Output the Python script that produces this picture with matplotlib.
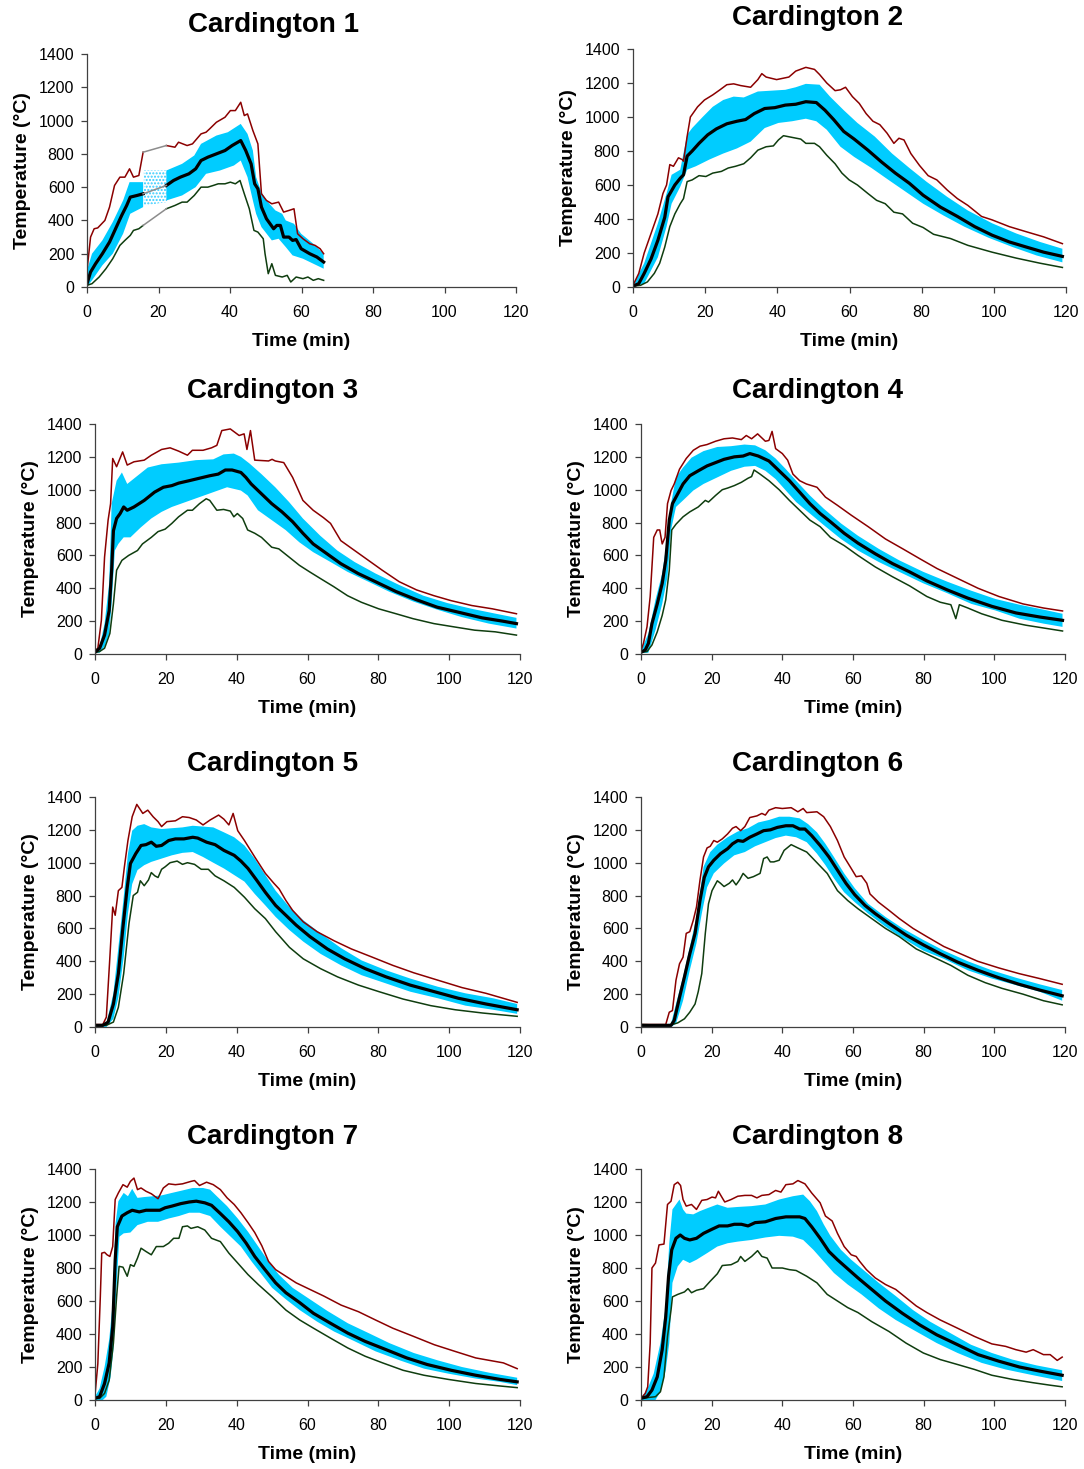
import numpy as np
import matplotlib
matplotlib.use("Agg")
import matplotlib.pyplot as plt

plt.rcParams['font.family'] = ['Liberation Sans', 'DejaVu Sans']

# ---- Cardington 1 (gap in the record between ~16 and ~22 min) ----
c1_max_a = [(0, 100), (1, 300), (2, 350), (3, 355), (5, 400), (6.3, 480), (7.7, 610), (9.2, 660),
            (10.6, 660), (11.9, 710), (13, 660), (14.5, 670), (15.7, 810)]
c1_max_b = [(22.2, 850), (24.6, 840), (25.6, 870), (28, 850), (29.5, 860), (31.9, 920), (33.3, 930),
            (34.3, 950), (36.2, 990), (38.6, 1020), (40.1, 1060), (41.5, 1060), (43, 1110), (44, 1030),
            (44.9, 1040), (46.4, 940), (47.8, 860), (48.8, 560), (50.2, 520), (51.7, 500), (53.6, 510),
            (55, 450), (56.5, 460), (57.9, 470), (58.9, 320), (60.4, 290), (62.3, 260), (63.8, 250),
            (65.2, 230), (66.2, 200)]
c1_min_a = [(0, 10), (1.4, 20), (3.4, 60), (5.3, 110), (7.2, 170), (9.2, 250), (10.6, 280), (12.1, 310),
            (13, 340), (14.5, 350), (15.7, 370)]
c1_min_b = [(22.2, 470), (24.6, 490), (26.6, 510), (28, 510), (30, 550), (31.9, 600), (33.8, 600),
            (35.3, 610), (36.7, 620), (38.6, 620), (40.1, 630), (41.5, 620), (42.8, 640), (44, 560),
            (45.4, 470), (46.7, 340), (47.8, 330), (49.3, 290), (49.8, 200), (50.7, 80), (51.7, 140),
            (52.7, 70), (54.6, 60), (56, 70), (57, 30), (58.5, 60), (60.4, 50), (61.8, 60), (63.3, 40),
            (64.7, 50), (66.2, 40)]
c1_mean_a = [(0, 20), (1, 90), (2.4, 140), (4.3, 200), (6.3, 270), (8.2, 360), (9.7, 430), (11.1, 490),
             (12.1, 540), (14, 550), (15.7, 560)]
c1_mean_b = [(22.2, 610), (24.2, 640), (26.1, 660), (28.5, 680), (30.4, 710), (31.9, 760), (33.8, 780),
             (36.2, 800), (38.6, 820), (40.6, 850), (43, 880), (44.4, 820), (45.9, 740), (46.9, 620),
             (47.8, 590), (48.8, 480), (50.2, 410), (52.2, 350), (53.1, 370), (54.1, 370), (55, 300),
             (56.5, 300), (57.5, 280), (58.5, 285), (59.9, 230), (62.3, 200), (64.3, 180), (66.2, 150)]
c1_hi_a = [(0, 100), (1.4, 200), (4.3, 280), (7.2, 390), (10.1, 520), (11.9, 630), (15.7, 630)]
c1_lo_a = [(0, 0), (1.4, 40), (4.3, 130), (7.2, 200), (10.1, 320), (12.1, 440), (15.7, 480)]
c1_hi_b = [(22.2, 700), (26.6, 740), (30, 790), (31.9, 860), (36.2, 910), (39.4, 930), (43, 980),
           (44.9, 920), (46.4, 820), (47.3, 660), (48.8, 570), (50.2, 520), (52.7, 460), (54.6, 440),
           (55.6, 400), (57.9, 380), (59.9, 320), (63.3, 260), (66.2, 200)]
c1_lo_b = [(22.2, 520), (26.6, 550), (30.4, 600), (33.3, 680), (37.2, 700), (41.1, 730), (43, 760),
           (44.9, 660), (46.4, 520), (47.3, 440), (48.8, 360), (51.7, 280), (53.6, 290), (55.6, 240),
           (57.5, 190), (60.4, 170), (63.3, 140), (66.2, 110)]
c1_gap_hi = [(15.9, 700), (22.4, 700)]
c1_gap_lo = [(15.9, 490), (22.4, 510)]

# ---- Cardington 2 ----
c2_max = [(0, 10), (1.6, 80), (3.1, 200), (5, 315), (6.9, 430), (8.3, 550), (9.3, 600), (10.2, 720),
          (11.2, 710), (12.6, 760), (13.6, 750), (14, 740), (15, 885), (15.9, 1000), (17.9, 1060),
          (19.8, 1100), (22.1, 1130), (24.1, 1160), (26, 1190), (27.9, 1195), (29.8, 1185), (32.6, 1175),
          (34.6, 1220), (35.7, 1255), (36.9, 1235), (39.8, 1220), (43.2, 1235), (45.1, 1270), (47.9, 1292),
          (50.3, 1280), (51.7, 1250), (53.7, 1200), (56, 1155), (57.5, 1160), (58.9, 1175), (60.8, 1120),
          (62.7, 1080), (64.6, 1020), (66.5, 975), (68.4, 955), (70.4, 905), (72.3, 845), (73.7, 875),
          (75.1, 865), (77, 785), (79.4, 715), (81.8, 655), (84.2, 630), (87.1, 570), (89.9, 520),
          (92.8, 480), (96.6, 415), (99.5, 395), (104.3, 355), (109, 325), (113.8, 295), (119, 255)]
c2_min = [(0, 5), (2.1, 10), (4, 30), (5.9, 80), (7.4, 140), (8.8, 235), (10.2, 355), (11.6, 430),
          (13.1, 490), (14, 520), (15, 620), (16.4, 630), (18.3, 655), (20.2, 650), (22.1, 670),
          (24.5, 680), (26.4, 700), (28.4, 710), (30.7, 725), (32.6, 760), (34.6, 805), (36.9, 825),
          (38.9, 830), (40.3, 865), (41.7, 890), (44.1, 880), (46.5, 870), (47.9, 845), (50.3, 845),
          (51.7, 825), (53.7, 775), (56, 725), (57.9, 670), (59.9, 630), (62.2, 600), (65.1, 550),
          (67.5, 510), (69.9, 490), (72.3, 440), (74.7, 430), (77.5, 375), (80.4, 350), (83.3, 310),
          (88, 285), (92.8, 245), (99.5, 205), (106.2, 170), (112.8, 140), (119, 115)]
c2_mean = [(0, 5), (1.6, 20), (3.1, 80), (5, 165), (6.9, 275), (8.8, 410), (9.7, 530), (11.6, 600),
           (13.1, 640), (14, 660), (15, 770), (16.4, 800), (18.3, 845), (20.7, 895), (23.1, 930),
           (26, 960), (28.8, 975), (31.2, 985), (33.6, 1020), (36.5, 1050), (39.3, 1055), (42.2, 1070),
           (45.1, 1075), (47.9, 1090), (50.8, 1085), (53.2, 1040), (55.6, 985), (58.4, 915), (61.3, 870),
           (65.1, 805), (68.9, 735), (72.7, 670), (76.6, 610), (80.4, 540), (85.2, 470), (89.9, 415),
           (94.7, 355), (99.5, 305), (104.3, 265), (109, 235), (113.8, 205), (119, 180)]
c2_hi = [(0, 10), (3.1, 140), (6.9, 375), (9.3, 550), (10.7, 660), (13.1, 690), (15, 895), (16.4, 935),
         (19.3, 1000), (22.1, 1060), (25, 1100), (27.9, 1120), (30.7, 1115), (34.6, 1150), (38.4, 1155),
         (42.2, 1160), (45.1, 1175), (47.9, 1195), (51.7, 1190), (54.6, 1120), (58.4, 1040), (62.2, 965),
         (67, 885), (71.8, 785), (76.6, 700), (81.3, 620), (87.1, 530), (92.8, 450), (99.5, 375),
         (106.2, 315), (112.8, 265), (119, 225)]
c2_lo = [(0, 0), (3.1, 20), (6.9, 175), (9.3, 355), (10.7, 490), (13.1, 590), (15, 690), (17.4, 710),
         (21.2, 750), (25, 785), (28.8, 815), (32.6, 855), (36.5, 935), (40.3, 965), (44.1, 975),
         (47.9, 990), (50.8, 975), (53.7, 925), (57.5, 825), (61.3, 765), (66.1, 700), (70.8, 630),
         (75.6, 560), (80.4, 490), (86.1, 420), (91.8, 355), (98.5, 290), (105.2, 235), (111.9, 185),
         (119, 145)]

# ---- Cardington 3 ----
c3_max = [(0, 20), (0.8, 35), (1.8, 205), (2.7, 590), (3.7, 815), (4.4, 915), (5, 1190), (6.1, 1140),
          (7.8, 1230), (9.1, 1150), (11, 1170), (13.9, 1180), (15.9, 1210), (18.8, 1245), (21.2, 1255),
          (23.6, 1235), (26.1, 1210), (27.5, 1240), (30.5, 1240), (32.9, 1255), (34.4, 1270), (35.8, 1360),
          (38.2, 1370), (40.7, 1330), (42.1, 1340), (42.9, 1245), (43.9, 1360), (45.1, 1180), (49, 1175),
          (50, 1185), (50.9, 1175), (53.3, 1165), (55.8, 1075), (58.7, 935), (61.6, 875), (64.5, 830),
          (66.5, 795), (69.4, 690), (73.3, 630), (77.2, 570), (81.1, 510), (85.9, 440), (90.8, 390),
          (95.7, 355), (100.5, 325), (106.4, 295), (112.2, 275), (119, 245)]
c3_min = [(0, 10), (1.3, 15), (2.7, 35), (4.2, 125), (5.2, 305), (6.1, 510), (7.6, 570), (9.5, 600),
          (12, 630), (13.4, 670), (15.9, 710), (17.8, 745), (19.8, 760), (21.7, 795), (23.6, 835),
          (26.1, 875), (27.5, 875), (29.5, 915), (31.4, 945), (32.4, 935), (34.4, 875), (36.3, 880),
          (38.2, 870), (39.2, 835), (40.2, 855), (41.7, 825), (43.1, 755), (45.1, 735), (47, 710),
          (49.9, 650), (51.9, 640), (54.8, 590), (57.7, 540), (60.6, 500), (63.6, 460), (67.4, 410),
          (71.3, 355), (75.2, 315), (80.1, 275), (85, 245), (89.8, 215), (95.7, 185), (101.4, 165),
          (107.2, 145), (113, 135), (119, 115)]
c3_mean = [(0, 10), (1.3, 35), (2.7, 115), (4, 265), (4.7, 510), (5.2, 750), (6.1, 825), (7.1, 855),
           (8.1, 895), (9.1, 875), (11, 895), (13.9, 935), (16.8, 985), (19.3, 1015), (21.7, 1025),
           (23.6, 1040), (26.6, 1055), (29.5, 1070), (32.4, 1085), (34.8, 1095), (36.8, 1120), (38.7, 1120),
           (41.2, 1105), (42.6, 1075), (44.1, 1035), (47, 975), (49.9, 915), (52.8, 865), (55.8, 805),
           (58.7, 735), (61.6, 670), (65.5, 610), (69.4, 550), (74.3, 490), (79.2, 440), (85, 380),
           (90.8, 330), (96.6, 285), (102.5, 255), (109.3, 220), (115.1, 200), (119, 185)]
c3_hi = [(0, 10), (1.3, 45), (2.7, 185), (4, 430), (4.7, 915), (6.1, 1055), (7.6, 1105), (9.1, 1035),
         (12, 1085), (14.9, 1135), (18.8, 1155), (23.6, 1165), (28.5, 1180), (33.4, 1185), (36.3, 1215),
         (39.2, 1220), (41.2, 1200), (43.6, 1160), (47, 1095), (50.9, 1015), (54.8, 925), (58.7, 825),
         (63.6, 720), (68.4, 630), (73.3, 560), (79.2, 490), (85.9, 420), (92.7, 355), (99.5, 310),
         (106.4, 275), (113.2, 245), (119, 220)]
c3_lo = [(0, 5), (1.3, 8), (2.7, 45), (4, 125), (4.7, 305), (5.6, 630), (6.6, 670), (8.1, 710),
         (10, 710), (12.9, 770), (15.9, 825), (18.8, 865), (21.7, 895), (25.6, 925), (29.5, 955),
         (33.4, 985), (37.3, 1015), (41.2, 995), (43.1, 965), (46, 875), (49.9, 815), (53.8, 755),
         (57.7, 680), (61.6, 620), (66.5, 560), (71.3, 500), (77.2, 440), (83, 380), (89.8, 320),
         (96.6, 270), (103.5, 225), (111.2, 185), (119, 155)]

# ---- Cardington 4 ----
c4_max = [(0, 20), (0.7, 65), (1.7, 165), (2.6, 350), (3.6, 710), (4.6, 755), (5.3, 755), (6, 670),
          (6.8, 710), (7.5, 915), (8.5, 995), (9.4, 1035), (10.9, 1125), (12.8, 1190), (14.8, 1240),
          (16.7, 1265), (18.7, 1275), (21.1, 1295), (23.5, 1310), (25.9, 1315), (28.4, 1305), (29.8, 1330),
          (31.3, 1310), (33, 1340), (35.2, 1295), (36.2, 1300), (37.1, 1355), (38.1, 1250), (40, 1220),
          (41.5, 1180), (43, 1095), (44.9, 1055), (46.8, 1035), (49.8, 1015), (52.2, 955), (55.6, 905),
          (59.5, 845), (64.3, 775), (69.2, 700), (74.1, 640), (78.9, 580), (83.8, 520), (89.6, 460),
          (95.4, 400), (101.3, 350), (108.1, 305), (113.9, 280), (119.3, 262)]
c4_min = [(0, 10), (1.7, 15), (3.1, 55), (4.6, 135), (6, 235), (7, 330), (8, 510), (8.7, 755),
          (9.9, 790), (11.9, 835), (13.8, 865), (16.2, 895), (18.2, 935), (19.1, 925), (21.1, 965),
          (23, 1000), (24.5, 1010), (26.4, 1025), (28.4, 1045), (30.3, 1070), (31.3, 1080), (32, 1120),
          (33.7, 1095), (36.2, 1055), (39.1, 1000), (42, 935), (44.9, 875), (47.8, 815), (50.7, 775),
          (53.6, 710), (57.5, 660), (61.4, 600), (66.3, 530), (71.2, 470), (76, 415), (80.9, 350),
          (84.7, 315), (87.7, 300), (89.1, 215), (90.1, 300), (92.5, 280), (96.4, 245), (102.2, 205),
          (109, 175), (114.9, 155), (119.3, 140)]
c4_mean = [(0, 10), (1.2, 25), (2.1, 65), (3.1, 185), (4.6, 305), (6, 430), (7, 570), (8, 815),
           (8.9, 915), (10.4, 975), (11.9, 1035), (13.8, 1085), (16.2, 1115), (18.7, 1145), (21.1, 1165),
           (23.5, 1185), (26.4, 1200), (28.9, 1205), (30.8, 1220), (33.2, 1205), (36.2, 1175), (39.1, 1115),
           (42, 1055), (44.9, 985), (47.8, 915), (50.7, 855), (53.6, 805), (57.5, 735), (61.4, 675),
           (66.3, 610), (71.2, 550), (76, 500), (80.9, 445), (86.7, 390), (92.5, 340), (99.3, 290),
           (106.1, 250), (112.9, 225), (119.3, 205)]
c4_hi = [(0, 20), (2.1, 125), (4.1, 330), (6, 490), (7.5, 710), (8.5, 915), (9.9, 1075), (11.9, 1135),
         (14.3, 1195), (17.7, 1235), (21.6, 1260), (25.5, 1265), (29.3, 1275), (32.3, 1270), (35.2, 1240),
         (38.1, 1190), (41, 1125), (43.9, 1055), (47.8, 965), (51.7, 885), (56.6, 795), (61.4, 720),
         (67.3, 640), (73.1, 570), (79.9, 500), (86.7, 440), (93.5, 385), (100.3, 335), (107.1, 300),
         (113.9, 270), (119.3, 245)]
c4_lo = [(0, 5), (2.1, 8), (4.1, 145), (6, 305), (7.5, 470), (8.5, 755), (9.9, 895), (11.9, 935),
         (14.8, 995), (17.7, 1035), (21.6, 1075), (25.5, 1115), (29.3, 1140), (32.3, 1145), (35.2, 1115),
         (38.1, 1065), (41, 995), (43.9, 925), (47.8, 855), (51.7, 785), (56.6, 700), (61.4, 630),
         (67.3, 560), (73.1, 500), (79.9, 430), (86.7, 370), (93.5, 305), (100.3, 265), (107.1, 215),
         (113.9, 185), (119.3, 165)]

# ---- Cardington 5 ----
c5_max = [(0, 15), (2.2, 15), (3.2, 60), (4.2, 425), (5, 730), (5.7, 680), (6.6, 830), (7.6, 850),
          (8.3, 975), (9.3, 1135), (10.5, 1280), (11.8, 1355), (13.5, 1300), (14.9, 1320), (16.4, 1280),
          (17.8, 1250), (18.8, 1220), (20.3, 1250), (22.7, 1255), (24.7, 1280), (26.6, 1275), (28.6, 1260),
          (30.5, 1230), (32.5, 1260), (34.9, 1290), (36.4, 1265), (37.8, 1230), (39, 1300), (40.3, 1195),
          (42.2, 1135), (45.1, 1035), (48.1, 935), (50.5, 875), (52, 840), (53.9, 770), (55.8, 710),
          (58.8, 640), (62.7, 580), (67.5, 525), (72.4, 475), (78.3, 425), (84.1, 375), (90, 330),
          (96.8, 285), (103.6, 240), (110.4, 205), (119.2, 150)]
c5_min = [(0, 10), (3.2, 10), (5.2, 30), (6.6, 120), (8.1, 325), (9.6, 630), (10.8, 800), (12, 820),
          (12.8, 890), (13.9, 860), (15.1, 895), (15.9, 940), (16.9, 920), (17.8, 910), (18.8, 960),
          (19.8, 975), (21.2, 1000), (23.2, 1010), (24.7, 990), (26.1, 1000), (28.1, 990), (30, 960),
          (32, 960), (33.9, 920), (36.4, 890), (39.3, 850), (42.2, 790), (45.1, 720), (48.1, 660),
          (51, 580), (54.9, 485), (58.8, 415), (63.7, 355), (68.5, 305), (74.4, 255), (80.2, 215),
          (87, 170), (94.8, 130), (101.7, 105), (109.5, 85), (119.2, 65)]
c5_mean = [(0, 10), (2.2, 10), (3.7, 30), (5.2, 140), (6.6, 325), (7.9, 610), (9.1, 850), (10, 995),
           (11.5, 1055), (13, 1105), (14.4, 1110), (15.9, 1125), (17.3, 1100), (18.8, 1105), (20.8, 1135),
           (22.7, 1145), (25.1, 1145), (27.6, 1155), (29, 1150), (31.5, 1125), (33.9, 1110), (36.4, 1075),
           (39.3, 1045), (41.2, 1010), (43.2, 965), (45.6, 895), (48.1, 820), (51, 740), (53.9, 680),
           (56.8, 620), (60.7, 550), (65.6, 475), (70.5, 415), (76.3, 355), (82.2, 305), (89, 255),
           (95.8, 215), (102.6, 175), (110.4, 140), (119.2, 105)]
c5_hi = [(0, 15), (3.2, 20), (5.2, 205), (6.6, 485), (8.1, 790), (9.3, 1055), (10.5, 1195), (12, 1225),
         (13.9, 1235), (15.9, 1215), (18.8, 1205), (21.7, 1210), (24.7, 1215), (27.6, 1225), (30.5, 1220),
         (33.4, 1215), (36.4, 1185), (39.3, 1155), (42.2, 1105), (45.1, 1025), (48.1, 925), (51, 830),
         (54.9, 730), (58.8, 650), (63.7, 570), (69.5, 480), (75.3, 405), (82.2, 345), (89, 295),
         (96.8, 245), (104.6, 205), (112.4, 175), (119.2, 140)]
c5_lo = [(0, 5), (3.2, 0), (5.2, 50), (6.6, 180), (8.1, 425), (9.3, 690), (10.5, 870), (12, 955),
         (13.9, 985), (15.9, 1005), (18.8, 1025), (21.7, 1045), (24.7, 1060), (27.6, 1065), (30.5, 1035),
         (33.4, 1000), (36.4, 965), (39.3, 925), (42.2, 885), (45.1, 810), (48.1, 740), (51, 670),
         (54.9, 590), (58.8, 520), (63.7, 445), (69.5, 375), (75.3, 315), (82.2, 265), (89, 215),
         (96.8, 175), (104.6, 130), (112.4, 105), (119.2, 80)]

# ---- Cardington 6 ----
c6_max = [(0, 15), (7, 15), (8, 90), (8.9, 100), (9.9, 285), (10.9, 385), (11.9, 425), (12.8, 570),
          (13.8, 580), (14.8, 650), (15.7, 730), (16.7, 895), (17.7, 1035), (18.7, 1090), (19.6, 1100),
          (20.6, 1135), (21.6, 1125), (23, 1145), (24.5, 1175), (25.9, 1210), (26.9, 1220), (28.2, 1195),
          (29.4, 1220), (30.8, 1275), (32.8, 1285), (34.2, 1300), (35.2, 1290), (36.2, 1320), (38.1, 1335),
          (40, 1330), (42.5, 1335), (44.4, 1310), (45.9, 1330), (46.9, 1305), (49.8, 1310), (51.7, 1280),
          (53.6, 1220), (55.6, 1135), (57.5, 1035), (59.5, 965), (60.9, 915), (62.4, 920), (63.9, 875),
          (64.8, 810), (67.2, 760), (70.2, 710), (73.1, 660), (77, 600), (80.9, 550), (85.7, 490),
          (90.5, 445), (95.3, 400), (101.2, 360), (107, 325), (112.8, 295), (119.2, 260)]
c6_min = [(0, 15), (8, 10), (10.4, 25), (12.3, 50), (13.8, 90), (15.3, 140), (16.2, 215), (17.2, 325),
          (18.2, 570), (19.1, 750), (20.1, 830), (21.6, 890), (22.5, 875), (23.5, 855), (25, 875),
          (25.9, 895), (26.9, 865), (27.9, 895), (28.9, 935), (30.3, 905), (31.8, 915), (33.7, 935),
          (34.7, 1025), (35.7, 1035), (36.6, 1005), (37.6, 1005), (39.1, 1015), (40.5, 1075), (42.5, 1110),
          (44.4, 1090), (46.9, 1065), (49.8, 1000), (52.7, 935), (55.6, 830), (58.5, 770), (61.4, 720),
          (65.3, 660), (69.2, 600), (73.1, 550), (77.9, 475), (82.8, 425), (87.7, 375), (92.5, 315),
          (97.4, 270), (102.2, 235), (108.1, 200), (113.9, 160), (119.2, 135)]
c6_mean = [(0, 10), (8.5, 10), (9.4, 40), (10.9, 180), (12.3, 305), (13.8, 445), (15.3, 570), (16.7, 770),
           (17.9, 910), (19.1, 975), (20.6, 1015), (22.5, 1055), (24.5, 1085), (25.9, 1115), (27.4, 1135),
           (28.9, 1130), (30.8, 1155), (32.8, 1175), (34.7, 1195), (36.6, 1200), (38.6, 1215), (41, 1225),
           (43, 1225), (44.9, 1205), (46.4, 1205), (48.3, 1165), (50.7, 1105), (53.2, 1035), (55.6, 955),
           (58, 875), (60.5, 805), (63.4, 740), (66.3, 690), (70.2, 630), (75, 560), (79.9, 500),
           (84.8, 445), (89.6, 395), (95.4, 345), (101.2, 300), (107, 260), (112.8, 225), (119.2, 190)]
c6_hi = [(0, 10), (8.5, 20), (9.9, 140), (11.9, 305), (13.8, 485), (15.7, 670), (17.7, 975), (19.6, 1065),
         (21.6, 1110), (24.5, 1155), (27.4, 1190), (30.3, 1210), (33.2, 1245), (36.2, 1260), (39.1, 1280),
         (42, 1280), (44.9, 1270), (47.3, 1235), (49.8, 1185), (52.2, 1115), (54.6, 1035), (57.5, 935),
         (60.5, 845), (64.3, 750), (69.2, 670), (74.1, 600), (79.9, 530), (85.7, 465), (92.5, 400),
         (99.3, 345), (106.1, 300), (112.8, 260), (119.2, 225)]
c6_lo = [(0, 5), (8.5, 0), (9.9, 20), (11.9, 160), (13.8, 345), (15.7, 510), (17.2, 690), (18.7, 850),
         (20.6, 935), (23.5, 995), (26.4, 1045), (29.4, 1065), (32.3, 1100), (35.2, 1125), (38.1, 1150),
         (41, 1165), (43.9, 1155), (46.9, 1125), (49.8, 1055), (52.2, 985), (54.6, 905), (57.5, 820),
         (60.5, 760), (64.3, 690), (69.2, 610), (74.1, 540), (79.9, 465), (85.7, 415), (92.5, 345),
         (99.3, 295), (106.1, 255), (112.8, 215), (119.2, 160)]

# ---- Cardington 7 ----
c7_max = [(0, 30), (0.8, 220), (1.5, 625), (1.9, 890), (2.7, 895), (3.4, 880), (4.2, 870), (5, 930),
          (5.7, 1215), (6.6, 1255), (7.9, 1305), (9.1, 1290), (10, 1325), (11, 1345), (12, 1275),
          (13, 1285), (14.4, 1265), (15.9, 1250), (17.8, 1220), (19.3, 1285), (20.8, 1310), (22.7, 1305),
          (24.7, 1310), (27.1, 1325), (28.1, 1330), (29.5, 1300), (31.5, 1320), (33.4, 1305), (35.4, 1275),
          (37.3, 1225), (39.3, 1185), (41.2, 1135), (43.2, 1075), (45.1, 1015), (47.1, 935), (48, 890),
          (49, 840), (51, 790), (53.9, 750), (56.8, 710), (60.7, 670), (64.6, 630), (69.5, 575),
          (74.4, 535), (79.2, 485), (84.1, 435), (90, 385), (95.8, 335), (101.6, 295), (107.5, 255),
          (111.4, 240), (115.3, 225), (119.2, 190)]
c7_min = [(0, 10), (1.3, 10), (2.7, 40), (4, 120), (5.2, 345), (6.1, 625), (6.8, 810), (7.9, 805),
          (9.1, 750), (10, 820), (11, 810), (12, 860), (13, 920), (14.4, 900), (15.9, 880), (17.3, 930),
          (19.3, 930), (20.8, 950), (22.2, 980), (23.7, 980), (24.7, 1050), (26.1, 1055), (27.1, 1040),
          (29, 1050), (31, 1030), (32.9, 980), (35.4, 960), (37.8, 890), (40.3, 830), (43.2, 760),
          (46.1, 700), (50, 625), (53.9, 545), (57.8, 485), (61.7, 435), (66.5, 375), (71.4, 315),
          (76.3, 265), (81.2, 225), (87, 180), (92.9, 150), (99.7, 125), (107.5, 100), (114.3, 85),
          (119.2, 75)]
c7_mean = [(0, 10), (1.3, 20), (2.7, 100), (4, 225), (5, 445), (5.7, 850), (6.3, 1050), (7.6, 1115),
           (9.1, 1135), (10.5, 1150), (12.5, 1140), (14.4, 1150), (16.9, 1150), (18.3, 1150), (19.8, 1165),
           (21.7, 1175), (24.2, 1190), (26.6, 1200), (28.6, 1205), (31, 1195), (32.9, 1180), (35.4, 1130),
           (37.8, 1080), (40.3, 1020), (42.7, 950), (45.1, 870), (48, 790), (51, 710), (53.9, 650),
           (57.8, 590), (61.7, 525), (66.5, 465), (71.4, 405), (76.3, 355), (82.2, 305), (88, 255),
           (93.8, 215), (100.6, 180), (107.5, 150), (114.3, 125), (119.2, 110)]
c7_hi = [(0, 20), (1.3, 70), (2.7, 200), (4, 365), (5, 585), (5.8, 1070), (6.6, 1205), (8.1, 1255),
         (9.3, 1235), (10.5, 1280), (12, 1225), (13.9, 1230), (16.4, 1235), (18.8, 1240), (21.7, 1255),
         (24.7, 1270), (27.6, 1285), (30.5, 1285), (32.5, 1275), (34.4, 1235), (37.3, 1175), (40.3, 1100),
         (43.2, 1020), (46.1, 930), (49, 840), (51.9, 760), (55.8, 680), (60.7, 610), (65.6, 540),
         (71.4, 465), (77.3, 405), (83.1, 345), (90, 285), (96.8, 240), (103.6, 200), (111.4, 165),
         (119.2, 135)]
c7_lo = [(0, 0), (2.2, 0), (3.2, 20), (4.4, 140), (5.2, 305), (5.9, 625), (6.9, 990), (8.1, 1010),
         (10, 1015), (12, 1060), (14.9, 1080), (17.8, 1080), (20.8, 1100), (23.7, 1115), (26.6, 1135),
         (29.5, 1135), (32.5, 1115), (35.4, 1050), (38.3, 990), (41.2, 930), (44.2, 840), (47.1, 760),
         (50, 680), (53.9, 610), (57.8, 545), (62.7, 475), (67.5, 415), (73.4, 355), (79.2, 295),
         (86.1, 240), (92.9, 190), (99.7, 160), (107.5, 130), (114.3, 110), (119.2, 90)]

# ---- Cardington 8 ----
c8_max = [(0, 10), (1.2, 40), (1.9, 80), (2.6, 345), (3.1, 800), (4.1, 830), (5.1, 940), (6.5, 945),
          (7.5, 1185), (8.5, 1205), (9.4, 1305), (10.4, 1320), (11.2, 1300), (11.9, 1215), (12.8, 1175),
          (14.3, 1185), (15.7, 1155), (17.2, 1210), (18.7, 1215), (20.1, 1230), (21.1, 1225), (21.9, 1265),
          (23, 1225), (23.7, 1200), (25.5, 1215), (27.4, 1235), (29.4, 1240), (31.3, 1240), (32.8, 1225),
          (34.2, 1240), (36.2, 1245), (38.1, 1270), (39.6, 1260), (41, 1305), (43, 1310), (44.4, 1330),
          (46.4, 1310), (48.3, 1255), (50.7, 1195), (52.2, 1115), (54.1, 1085), (55.6, 1010), (57.5, 930),
          (59.5, 880), (60.9, 870), (61.9, 840), (63.8, 790), (66.3, 740), (69.2, 700), (72.1, 670),
          (75, 620), (77.9, 570), (80.9, 530), (84.7, 485), (89.6, 435), (94.4, 385), (99.3, 340),
          (103.2, 325), (106.1, 305), (109, 290), (111, 305), (113.9, 275), (115.8, 275), (117.8, 240),
          (119.2, 260)]
c8_min = [(0, 10), (4.1, 20), (5.5, 50), (6.5, 140), (7.5, 385), (8.5, 545), (8.9, 625), (10.4, 640),
          (12.3, 655), (13.3, 675), (14.3, 650), (15.7, 665), (17.7, 675), (19.6, 720), (21.6, 765),
          (23, 815), (25.5, 820), (27.4, 840), (28.2, 870), (29.4, 840), (31.3, 870), (33, 905),
          (34.2, 870), (35.7, 860), (37.1, 800), (40, 800), (42, 790), (43.9, 785), (46.9, 750),
          (49.8, 710), (52.7, 640), (55.6, 600), (58.5, 560), (61.4, 530), (65.3, 475), (70.2, 415),
          (75, 345), (79.9, 285), (84.7, 245), (89.6, 215), (94.4, 185), (99.3, 150), (105.1, 125),
          (110.9, 105), (115.7, 90), (119.2, 80)]
c8_mean = [(0, 10), (1.7, 20), (3.1, 60), (4.6, 140), (6, 305), (7, 505), (7.8, 750), (8.7, 910),
           (9.9, 980), (11.1, 1000), (12.3, 980), (13.8, 970), (15.7, 980), (17.7, 1010), (20.1, 1035),
           (22.1, 1055), (24.5, 1055), (26.4, 1065), (28.4, 1065), (30.3, 1055), (32.3, 1075), (35.2, 1080),
           (38.1, 1100), (41, 1110), (44.9, 1110), (46.4, 1100), (48.3, 1050), (50.7, 980), (53.2, 900),
           (55.6, 850), (58.5, 795), (61.4, 740), (65.3, 670), (69.2, 600), (74, 525), (78.9, 455),
           (83.7, 395), (89.6, 335), (95.4, 275), (101.3, 235), (107.1, 200), (112.9, 175), (119.2, 150)]
c8_hi = [(0, 15), (1.7, 60), (3.6, 160), (5.5, 345), (7, 565), (8, 950), (8.9, 1155), (9.9, 1185),
         (10.9, 1215), (11.9, 1155), (12.8, 1130), (14.8, 1125), (16.7, 1145), (19.1, 1165), (21.6, 1185),
         (24.5, 1165), (27.4, 1170), (31.3, 1175), (35.2, 1185), (39.1, 1215), (43, 1235), (45.9, 1245),
         (47.8, 1205), (49.8, 1145), (51.7, 1065), (53.6, 995), (56.6, 910), (59.5, 850), (63.4, 780),
         (67.3, 710), (72.1, 630), (77, 545), (81.8, 475), (87.6, 405), (93.4, 335), (99.3, 285),
         (105.1, 245), (111.9, 210), (119.2, 180)]
c8_lo = [(0, 0), (2.6, 0), (4.1, 0), (5.5, 50), (7, 180), (8, 345), (8.9, 710), (10.4, 810),
         (11.9, 850), (13.8, 830), (15.7, 850), (18.7, 890), (21.6, 930), (24.5, 950), (27.4, 960),
         (31.3, 970), (35.2, 985), (39.1, 995), (43, 990), (45.9, 970), (48.8, 910), (51.7, 840),
         (54.6, 770), (58.5, 700), (62.4, 640), (67.3, 555), (72.1, 485), (77.9, 415), (83.7, 345),
         (89.6, 285), (96.4, 225), (103.2, 185), (111, 150), (119.2, 115)]

titles = ["Cardington 1", "Cardington 2", "Cardington 3", "Cardington 4",
          "Cardington 5", "Cardington 6", "Cardington 7", "Cardington 8"]
x_ticks = [0, 20, 40, 60, 80, 100, 120]
y_ticks = [0, 200, 400, 600, 800, 1000, 1200, 1400]

RED = '#8B0000'
GREEN = '#0F3D0F'
BLUE = '#00CCFF'

W, H = 1084, 1469
# axes boxes in pixels: left, right, top, bottom ; title centre x, title y
boxes = [
    (87, 516, 54, 287, 273, 25),
    (633, 1066, 49, 287, 818, 18),
    (95, 520, 424, 654, 273, 391),
    (641, 1065, 424, 654, 818, 391),
    (95, 520, 797, 1027, 273, 764),
    (641, 1065, 797, 1027, 818, 764),
    (95, 520, 1169, 1400, 273, 1137),
    (641, 1065, 1169, 1400, 818, 1137),
]


def xy(pairs):
    a = np.array(pairs, dtype=float)
    return a[:, 0], a[:, 1]


def band(ax, hi, lo, **kw):
    th, vh = xy(hi)
    tl, vl = xy(lo)
    ax.fill(np.r_[th, tl[::-1]], np.r_[vh, vl[::-1]], **kw)


fig = plt.figure(figsize=(W / 100, H / 100), dpi=100)

axes = []
for i, (l, r, t, b, tx, ty) in enumerate(boxes):
    ax = fig.add_axes([l / W, 1 - b / H, (r - l) / W, (b - t) / H])
    axes.append(ax)
    fig.text(tx / W, 1 - ty / H, titles[i], ha='center', va='center',
             fontsize=20, fontweight='bold')

# panel 1 with the gap
ax = axes[0]
band(ax, c1_hi_a, c1_lo_a, color=BLUE, lw=0)
band(ax, c1_hi_b, c1_lo_b, color=BLUE, lw=0)
band(ax, c1_gap_hi, c1_gap_lo, facecolor='none', edgecolor='#33CCFF', hatch='.....', lw=0)
for a, b_, col, lw in [(c1_max_a, c1_max_b, RED, 1.1), (c1_min_a, c1_min_b, GREEN, 1.1),
                       (c1_mean_a, c1_mean_b, 'black', 2.3)]:
    ta, va = xy(a)
    tb, vb = xy(b_)
    ax.plot(ta, va, color=col, lw=lw)
    ax.plot(tb, vb, color=col, lw=lw)
    ax.plot([ta[-1], tb[0]], [va[-1], vb[0]], color='#8C8C8C', lw=1.1)

series = [
    (c2_max, c2_min, c2_mean, c2_hi, c2_lo),
    (c3_max, c3_min, c3_mean, c3_hi, c3_lo),
    (c4_max, c4_min, c4_mean, c4_hi, c4_lo),
    (c5_max, c5_min, c5_mean, c5_hi, c5_lo),
    (c6_max, c6_min, c6_mean, c6_hi, c6_lo),
    (c7_max, c7_min, c7_mean, c7_hi, c7_lo),
    (c8_max, c8_min, c8_mean, c8_hi, c8_lo),
]
for ax, (mx, mn, me, hi, lo) in zip(axes[1:], series):
    band(ax, hi, lo, color=BLUE, lw=0)
    ax.plot(*xy(mx), color=RED, lw=1.1)
    ax.plot(*xy(mn), color=GREEN, lw=1.1)
    ax.plot(*xy(me), color='black', lw=2.3)

for ax in axes:
    ax.set_xlim(0, 120)
    ax.set_ylim(0, 1400)
    ax.set_xticks(x_ticks)
    ax.set_yticks(y_ticks)
    ax.spines['top'].set_visible(False)
    ax.spines['right'].set_visible(False)
    for s in ['left', 'bottom']:
        ax.spines[s].set_color('#404040')
        ax.spines[s].set_linewidth(0.9)
    ax.tick_params(direction='out', length=4, width=0.9, color='#404040', labelsize=11.5)
    ax.tick_params(axis='x', pad=9)
    ax.tick_params(axis='y', pad=5)
    ax.set_xlabel('Time (min)', fontsize=14, fontweight='bold', labelpad=9)
    ax.set_ylabel('Temperature (°C)', fontsize=14, fontweight='bold', labelpad=6)

fig.savefig('out.png', dpi=100)
